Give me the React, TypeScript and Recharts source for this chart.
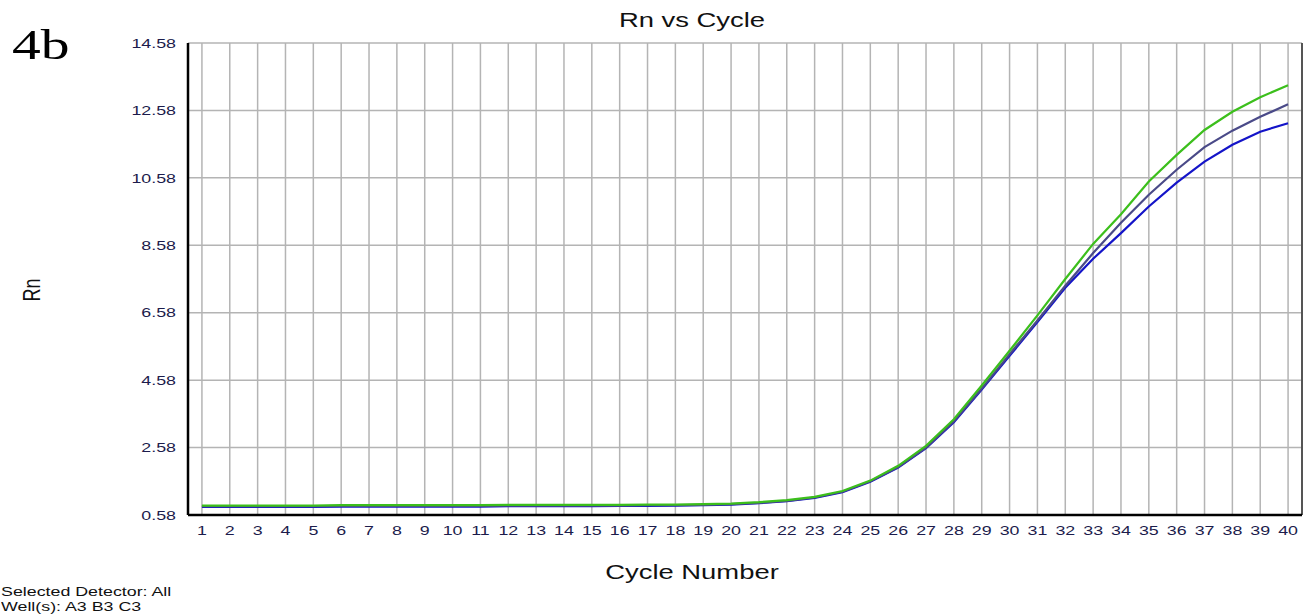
import React from "react";
import { LineChart, Line, XAxis, YAxis, CartesianGrid, ReferenceLine } from "recharts";

const cycles = [1,2,3,4,5,6,7,8,9,10,11,12,13,14,15,16,17,18,19,20,21,22,23,24,25,26,27,28,29,30,31,32,33,34,35,36,37,38,39,40];
const greenRn = [0.86,0.86,0.86,0.86,0.86,0.87,0.87,0.87,0.87,0.87,0.87,0.88,0.88,0.88,0.88,0.88,0.89,0.89,0.9,0.92,0.96,1.02,1.12,1.29,1.6,2.04,2.63,3.42,4.42,5.45,6.5,7.58,8.62,9.5,10.47,11.26,12.0,12.54,12.97,13.33];
const purpleRn = [0.84,0.84,0.84,0.84,0.84,0.85,0.85,0.85,0.85,0.85,0.85,0.86,0.86,0.86,0.86,0.86,0.87,0.87,0.88,0.9,0.94,1.0,1.1,1.27,1.58,2.0,2.58,3.36,4.33,5.35,6.35,7.38,8.35,9.25,10.08,10.82,11.49,11.98,12.39,12.76];
const blueRn = [0.82,0.82,0.82,0.82,0.82,0.83,0.83,0.83,0.83,0.83,0.83,0.84,0.84,0.84,0.84,0.85,0.85,0.86,0.87,0.89,0.93,0.99,1.09,1.26,1.57,1.99,2.56,3.33,4.3,5.3,6.3,7.32,8.18,8.94,9.73,10.44,11.06,11.56,11.95,12.2];
const yTicks = [0.58, 2.58, 4.58, 6.58, 8.58, 10.58, 12.58, 14.58];

const data = cycles.map((c, i) => ({ cycle: c, green: greenRn[i], purple: purpleRn[i], blue: blueRn[i] }));

const SX = 1.37;
const sans = "'Liberation Sans', Arial, sans-serif";

const YTick = (props: any) => {
  const { x, y, payload } = props;
  return (
    <g transform={`translate(${x},${y})`}>
      <text transform={`scale(${SX},1)`} textAnchor="end" dy="0.36em" fontFamily={sans} fontSize={13} fill="#1c1c4c">
        {Number(payload.value).toFixed(2)}
      </text>
    </g>
  );
};

const XTick = (props: any) => {
  const { x, y, payload } = props;
  return (
    <g transform={`translate(${x},${y})`}>
      <text transform={`scale(${SX},1)`} textAnchor="middle" dy="0.71em" fontFamily={sans} fontSize={13} fill="#1c1c4c">
        {payload.value}
      </text>
    </g>
  );
};

const stretched = (extra: React.CSSProperties): React.CSSProperties => ({
  position: "absolute",
  fontFamily: sans,
  color: "#111",
  whiteSpace: "nowrap",
  transform: `scaleX(${SX})`,
  ...extra,
});

export default function App() {
  return (
    <div style={{ position: "absolute", left: 0, top: 0, width: 1307, height: 614, background: "#fff", overflow: "hidden" }}>
      <LineChart width={1307} height={614} data={data} margin={{ top: 43, right: 5, bottom: 0, left: 128 }}>
        <CartesianGrid stroke="#b4b4b4" strokeWidth={1.5} horizontalValues={yTicks} verticalValues={cycles} />
        <XAxis
          dataKey="cycle"
          type="number"
          domain={[0.5, 40.5]}
          ticks={cycles}
          interval={0}
          height={99}
          axisLine={{ stroke: "#000", strokeWidth: 2.5 }}
          tickLine={false}
          tickSize={0}
          tickMargin={11}
          tick={<XTick />}
        />
        <YAxis
          type="number"
          domain={[0.58, 14.58]}
          ticks={yTicks}
          interval={0}
          width={60}
          axisLine={{ stroke: "#000", strokeWidth: 2.5 }}
          tickLine={false}
          tickSize={0}
          tickMargin={12}
          tick={<YTick />}
        />
        <ReferenceLine x={40.5} stroke="#555" strokeWidth={2} />
        <Line dataKey="blue" stroke="#1414c8" strokeWidth={2.2} dot={false} isAnimationActive={false} />
        <Line dataKey="purple" stroke="#4a4a88" strokeWidth={2.2} dot={false} isAnimationActive={false} />
        <Line dataKey="green" stroke="#3cbf1c" strokeWidth={2.2} dot={false} isAnimationActive={false} />
      </LineChart>
      <div style={stretched({ left: 12, top: 24, fontFamily: "'Liberation Serif', 'DejaVu Serif', serif", fontSize: 42, lineHeight: "42px", color: "#000", transformOrigin: "left top" })}>4b</div>
      <div style={stretched({ left: 592, top: 8, width: 200, textAlign: "center", fontSize: 20, lineHeight: "24px" })}>Rn vs Cycle</div>
      <div style={{ position: "absolute", left: 32, top: 290, transform: "translate(-50%, -50%) rotate(-90deg) scaleY(1.37)", fontFamily: sans, fontSize: 18, color: "#111" }}>Rn</div>
      <div style={stretched({ left: 542, top: 560, width: 300, textAlign: "center", fontSize: 20, lineHeight: "24px" })}>Cycle Number</div>
      <div style={stretched({ left: 1, top: 584, fontSize: 13, lineHeight: "15px", transformOrigin: "left top" })}>
        Selected Detector: All<br />Well(s): A3 B3 C3
      </div>
    </div>
  );
}
